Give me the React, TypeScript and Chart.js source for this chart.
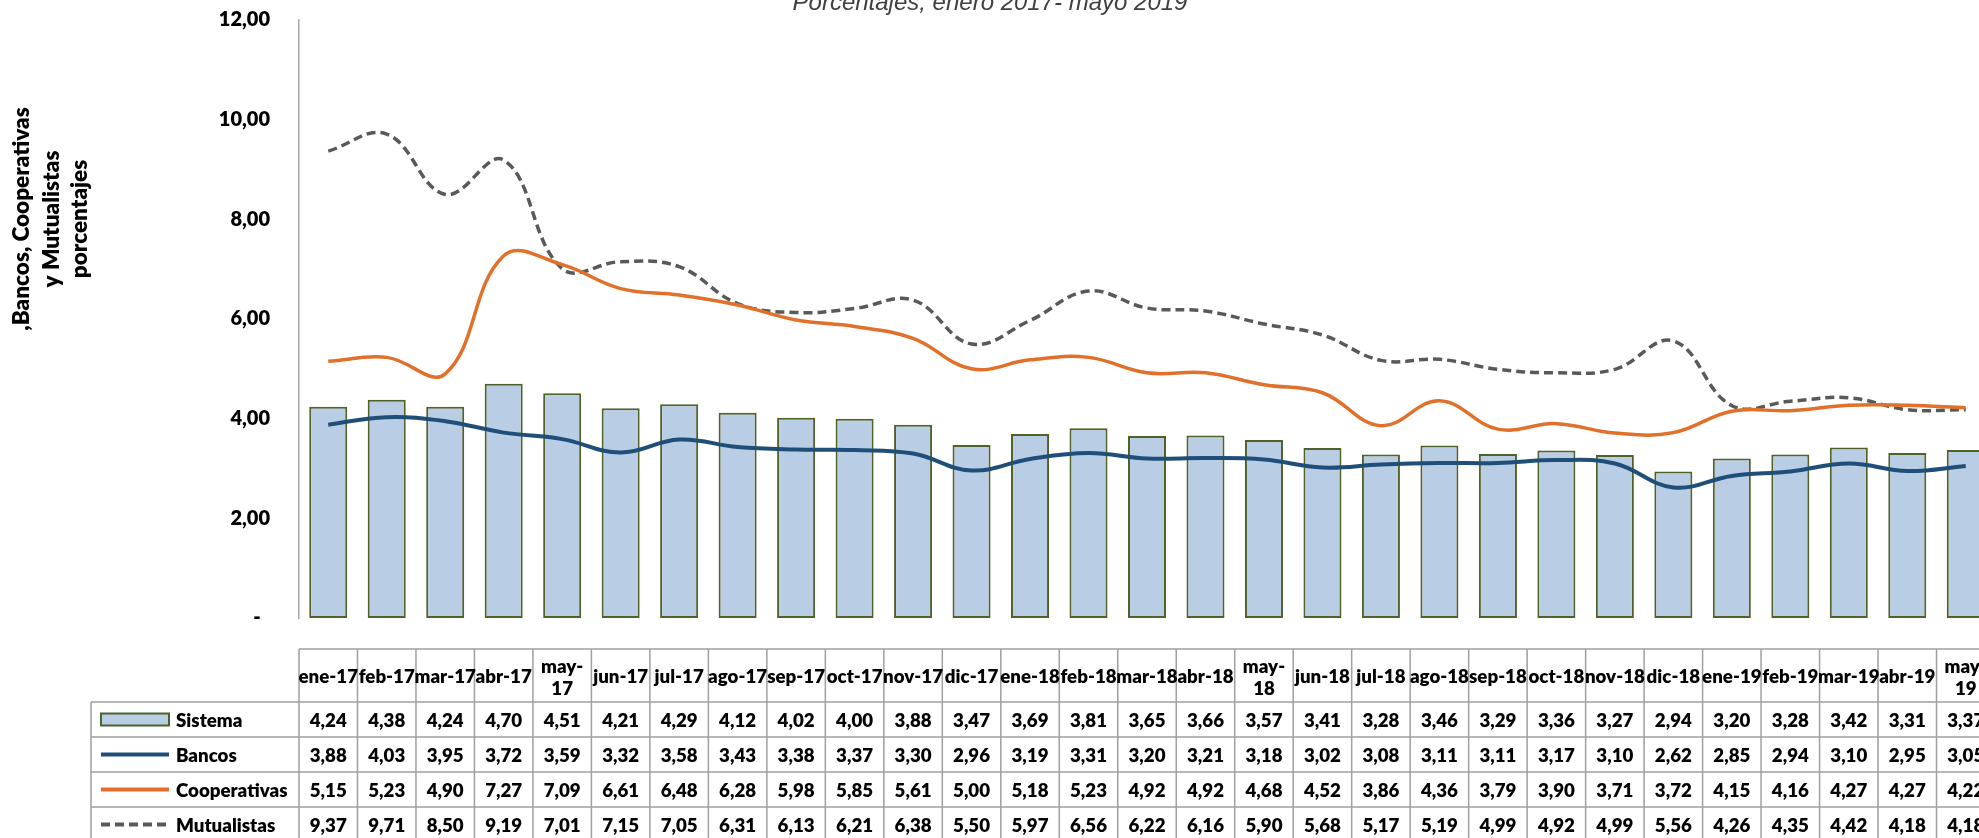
import React, { useEffect, useRef } from "react";
import { Chart, registerables } from "chart.js";

Chart.register(...registerables);

const categories: (string | string[])[] = [
  "ene-17", "feb-17", "mar-17", "abr-17", ["may-", "17"], "jun-17", "jul-17", "ago-17", "sep-17", "oct-17", "nov-17", "dic-17",
  "ene-18", "feb-18", "mar-18", "abr-18", ["may-", "18"], "jun-18", "jul-18", "ago-18", "sep-18", "oct-18", "nov-18", "dic-18",
  "ene-19", "feb-19", "mar-19", "abr-19", ["may-", "19"],
];

const sistema = [4.24, 4.38, 4.24, 4.70, 4.51, 4.21, 4.29, 4.12, 4.02, 4.00, 3.88, 3.47, 3.69, 3.81, 3.65, 3.66, 3.57, 3.41, 3.28, 3.46, 3.29, 3.36, 3.27, 2.94, 3.20, 3.28, 3.42, 3.31, 3.37];
const bancos = [3.88, 4.03, 3.95, 3.72, 3.59, 3.32, 3.58, 3.43, 3.38, 3.37, 3.30, 2.96, 3.19, 3.31, 3.20, 3.21, 3.18, 3.02, 3.08, 3.11, 3.11, 3.17, 3.10, 2.62, 2.85, 2.94, 3.10, 2.95, 3.05];
const cooperativas = [5.15, 5.23, 4.90, 7.27, 7.09, 6.61, 6.48, 6.28, 5.98, 5.85, 5.61, 5.00, 5.18, 5.23, 4.92, 4.92, 4.68, 4.52, 3.86, 4.36, 3.79, 3.90, 3.71, 3.72, 4.15, 4.16, 4.27, 4.27, 4.22];
const mutualistas = [9.37, 9.71, 8.50, 9.19, 7.01, 7.15, 7.05, 6.31, 6.13, 6.21, 6.38, 5.50, 5.97, 6.56, 6.22, 6.16, 5.90, 5.68, 5.17, 5.19, 4.99, 4.92, 4.99, 5.56, 4.26, 4.35, 4.42, 4.18, 4.18];

const seriesNames = ["Sistema", "Bancos", "Cooperativas", "Mutualistas"];
const yTicks = [0, 2, 4, 6, 8, 10, 12];
const titleText = "Porcentajes, enero 2017- mayo 2019";
const axisTitleLines = [",Bancos, Cooperativas", "y Mutualistas", "porcentajes"];

const C_BAR_FILL = "#B9CDE5";
const C_BAR_BORDER = "#4F6228";
const C_BANCOS = "#1F4E79";
const C_COOP = "#E0702A";
const C_MUT = "#595959";
const C_GRID = "#A0A0A0";

const FONT = "Lato, 'Open Sans', sans-serif";
const W = 800;

const fmt = (v: number) => v.toFixed(2).replace(".", ",");

const decorPlugin = {
  id: "decor",
  afterDraw(chart: any) {
    const ctx: CanvasRenderingContext2D = chart.ctx;
    const xs = chart.scales.x;
    const n = categories.length;
    const colW = xs.getPixelForValue(1) - xs.getPixelForValue(0);
    const left = xs.getPixelForValue(0) - colW / 2;
    const right = left + n * colW;
    const bottom = chart.chartArea.bottom;

    const headerTop = bottom + 31;
    const headerBottom = headerTop + 53;
    const rowH = 35;
    const legendLeft = 91;
    const tableBottom = headerBottom + rowH * 4;

    ctx.save();
    // title
    ctx.fillStyle = "#404040";
    ctx.font = "italic 24px 'Liberation Sans', Arial, sans-serif";
    ctx.textAlign = "center";
    ctx.textBaseline = "alphabetic";
    ctx.fillText(titleText, 990, 10);

    // axis title
    ctx.fillStyle = "#000";
    ctx.font = `${W} 22.5px ${FONT}`;
    ctx.textBaseline = "middle";
    const axisX = [22, 52, 80];
    axisTitleLines.forEach((t, i) => {
      ctx.save();
      ctx.translate(axisX[i], 219);
      ctx.rotate(-Math.PI / 2);
      ctx.textAlign = "center";
      ctx.fillText(t, 0, 0);
      ctx.restore();
    });

    // table grid
    ctx.strokeStyle = C_GRID;
    ctx.lineWidth = 1.5;
    ctx.beginPath();
    ctx.moveTo(left, headerTop);
    ctx.lineTo(right, headerTop);
    for (let r = 0; r <= 4; r++) {
      const y = headerBottom + r * rowH;
      ctx.moveTo(legendLeft, y);
      ctx.lineTo(right, y);
    }
    ctx.moveTo(legendLeft, headerBottom);
    ctx.lineTo(legendLeft, tableBottom);
    for (let i = 0; i <= n; i++) {
      const x = left + i * colW;
      ctx.moveTo(x, headerTop);
      ctx.lineTo(x, tableBottom);
    }
    ctx.stroke();

    // header labels
    ctx.fillStyle = "#000";
    ctx.font = `${W} 18.7px ${FONT}`;
    ctx.textAlign = "center";
    ctx.textBaseline = "middle";
    categories.forEach((c, i) => {
      const cx = xs.getPixelForValue(i);
      if (Array.isArray(c)) {
        ctx.fillText(c[0], cx, headerTop + 18);
        ctx.fillText(c[1], cx, headerTop + 40);
      } else {
        ctx.fillText(c, cx, headerTop + 28);
      }
    });

    // values
    const rows = [sistema, bancos, cooperativas, mutualistas];
    rows.forEach((vals, r) => {
      const cy = headerBottom + r * rowH + rowH / 2 + 1;
      vals.forEach((v, i) => {
        ctx.fillText(fmt(v), xs.getPixelForValue(i), cy);
      });
    });

    // legend keys
    ctx.textAlign = "left";
    const symL = 101;
    const symR = 169;
    seriesNames.forEach((name, r) => {
      const cy = headerBottom + r * rowH + rowH / 2;
      ctx.save();
      if (r === 0) {
        ctx.fillStyle = C_BAR_FILL;
        ctx.fillRect(symL, cy - 6, symR - symL, 12);
        ctx.strokeStyle = C_BAR_BORDER;
        ctx.lineWidth = 2;
        ctx.strokeRect(symL, cy - 6, symR - symL, 12);
      } else {
        ctx.beginPath();
        ctx.strokeStyle = r === 1 ? C_BANCOS : r === 2 ? C_COOP : C_MUT;
        ctx.lineWidth = 4;
        ctx.lineCap = "butt";
        if (r === 3) ctx.setLineDash([9, 5]);
        ctx.moveTo(symL, cy);
        ctx.lineTo(symR, cy);
        ctx.stroke();
      }
      ctx.restore();
      ctx.fillStyle = "#000";
      ctx.fillText(name, 176, cy + 1);
    });
    ctx.restore();
  },
};

export default function App() {
  const ref = useRef<HTMLCanvasElement | null>(null);

  useEffect(() => {
    if (!ref.current) return;
    const chart = new Chart(ref.current, {
      type: "bar",
      data: {
        labels: categories.map((c) => (Array.isArray(c) ? c.join("") : c)),
        datasets: [
          {
            type: "line",
            label: seriesNames[1],
            data: bancos,
            borderColor: C_BANCOS,
            borderWidth: 4,
            pointRadius: 0,
            tension: 0.4,
            fill: false,
            order: 1,
          } as any,
          {
            type: "line",
            label: seriesNames[2],
            data: cooperativas,
            borderColor: C_COOP,
            borderWidth: 3.5,
            pointRadius: 0,
            tension: 0.4,
            fill: false,
            order: 2,
          },
          {
            type: "line",
            label: seriesNames[3],
            data: mutualistas,
            borderColor: C_MUT,
            borderWidth: 3.5,
            borderDash: [9, 5],
            pointRadius: 0,
            tension: 0.4,
            fill: false,
            order: 3,
          },
          {
            type: "bar",
            label: seriesNames[0],
            data: sistema,
            backgroundColor: C_BAR_FILL,
            borderColor: C_BAR_BORDER,
            borderWidth: 2,
            borderSkipped: false,
            barPercentage: 0.65,
            categoryPercentage: 1,
            order: 10,
          },
        ],
      },
      options: {
        responsive: false,
        animation: false,
        devicePixelRatio: 1,
        layout: { padding: { top: 20, bottom: 220, left: 0, right: 0 } },
        plugins: {
          legend: { display: false },
          tooltip: { enabled: false },
          title: { display: false },
        },
        scales: {
          x: { display: false },
          y: {
            min: 0,
            max: 12,
            afterBuildTicks: (scale: any) => {
              scale.ticks = yTicks.map((v) => ({ value: v }));
            },
            afterFit: (scale: any) => {
              scale.width = 299;
              scale.paddingTop = 0;
              scale.paddingBottom = 0;
            },
            grid: { display: false, drawTicks: false },
            border: { display: true, color: "#A6A6A6", width: 1.5 },
            ticks: {
              padding: 29,
              color: "#000",
              font: { family: FONT, size: 20, weight: W as any },
              callback: (v: any) => (Number(v) === 0 ? "-  " : fmt(Number(v))),
            },
          },
        },
      },
      plugins: [decorPlugin],
    });
    return () => chart.destroy();
  }, []);

  return (
    <div style={{ position: "absolute", left: 0, top: 0, width: 1979, height: 838, overflow: "hidden", background: "#fff" }}>
      <canvas ref={ref} width={1995} height={838} style={{ display: "block" }} />
    </div>
  );
}
